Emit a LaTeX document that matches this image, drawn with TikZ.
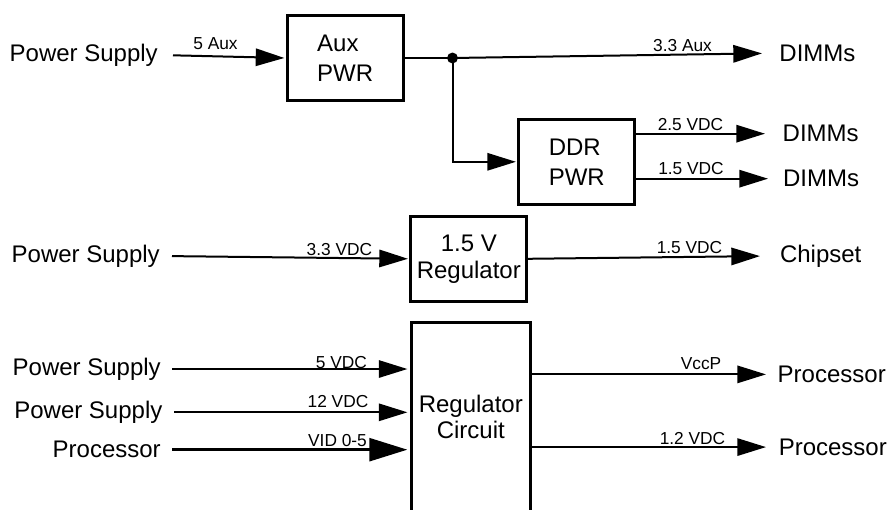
\documentclass[tikz,border=0pt]{standalone}
\usepackage{fontspec}
\setmainfont{Liberation Sans}
\usetikzlibrary{arrows.meta}
\begin{document}
\begin{tikzpicture}[x=0.75pt,y=-0.75pt,
  box/.style={draw, line width=2.2pt, minimum width=86.85pt, minimum height=64.1pt, inner sep=0pt, font=\fontsize{18}{22.5}\selectfont},
  wire/.style={line width=1.5pt},
  conn/.style={line width=1.5pt, -{Triangle[length=21.5pt,width=13pt]}},
  bigconn/.style={line width=2.6pt, -{Triangle[length=28.5pt,width=17pt]}},
  src/.style={anchor=mid east, inner ysep=0pt, font=\fontsize{18}{21}\selectfont},
  dst/.style={anchor=mid west, inner ysep=0pt, font=\fontsize{18}{21}\selectfont},
  lbl/.style={anchor=base, inner sep=0pt, font=\fontsize{13}{15}\selectfont}]
\useasboundingbox (0,0) rectangle (890,510);

% boxes
\node[box, align=left] (aux) at (345.2,58) {Aux\\PWR};
\node[box, align=left] (ddr) at (576.8,161.8) {DDR\\PWR};
\node[box, align=center, font=\fontsize{18}{20.25}\selectfont] (r15) at (468.8,258.8) {1.5 V\\Regulator};
\node[box, draw=none, minimum height=139.65pt, align=center, font=\fontsize{18}{19}\selectfont] (rc) at (470.8,416.9) {Regulator\\Circuit};
\draw[line width=2.2pt] (rc.south west) -- (rc.north west) -- (rc.north east) -- (rc.south east);

% sources
\node[src, inner xsep=11.25pt] (ps1) at (173,58) {Power Supply};
\node[src, inner xsep=9pt] (ps2) at (172,258.8) {Power Supply};
\node[src, inner xsep=8.25pt] (ps3) at (172,371.7) {Power Supply};
\node[src, inner xsep=8.5pt] (ps4) at (174,415) {Power Supply};
\node[src, inner xsep=8.25pt] (cpu1) at (172,454.3) {Processor};

% destinations
\node[dst, inner xsep=12.9pt] (dm1) at (762,58) {DIMMs};
\node[dst, inner xsep=13.1pt] (dm2) at (765,138.3) {DIMMs};
\node[dst, inner xsep=11.1pt] (dm3) at (768,183.3) {DIMMs};
\node[dst, inner xsep=14.8pt] (chip) at (760,258.8) {Chipset};
\node[dst, inner xsep=8.6pt] (cpu2) at (766,379) {Processor};
\node[dst, inner xsep=9.4pt] (cpu3) at (766,451.7) {Processor};

% junction
\coordinate (j) at (452.5,58);
\fill (j) circle (4.1pt);

% connectors
\draw[conn, shorten >=1.1pt] (ps1.east) -- (aux.west);
\draw[wire] (aux.east) -- (j);
\draw[conn] (j) -- (dm1.west);
\draw[conn, shorten >=1.1pt] (j) |- (ddr.west);
\draw[conn] (ddr.east |- dm2.west) -- (dm2.west);
\draw[conn] (ddr.east |- dm3.west) -- (dm3.west);
\draw[conn, shorten >=1.1pt] (ps2.east) -- (r15.west);
\draw[conn] (r15.east) -- (chip.west);
\draw[conn, shorten >=3pt] (ps3.east) -- (ps3.east -| rc.west);
\draw[conn, shorten >=3pt] (ps4.east) -- (ps4.east -| rc.west);
\draw[bigconn, shorten >=3pt] (cpu1.east) -- (cpu1.east -| rc.west);
\draw[conn] (rc.east |- cpu2.west) -- (cpu2.west);
\draw[conn] (rc.east |- cpu3.west) -- (cpu3.west);

% labels
\node[lbl] (l1) at (215.5,49.3) {5 Aux};
\node[lbl] (l2) at (682.5,51.7) {3.3 Aux};
\node[lbl] (l3) at (690.5,130.7) {2.5 VDC};
\node[lbl] (l4) at (691,175) {1.5 VDC};
\node[lbl] (l5) at (339.5,255) {3.3 VDC};
\node[lbl] (l6) at (689.5,253.3) {1.5 VDC};
\node[lbl] (l7) at (341.5,368.3) {5 VDC};
\node[lbl] (l8) at (338,407.3) {12 VDC};
\node[lbl] (l9) at (337.5,446.7) {VID 0-5};
\node[lbl] (l10) at (701,369) {VccP};
\node[lbl] (l11) at (692.5,444) {1.2 VDC};
\end{tikzpicture}
\end{document}
